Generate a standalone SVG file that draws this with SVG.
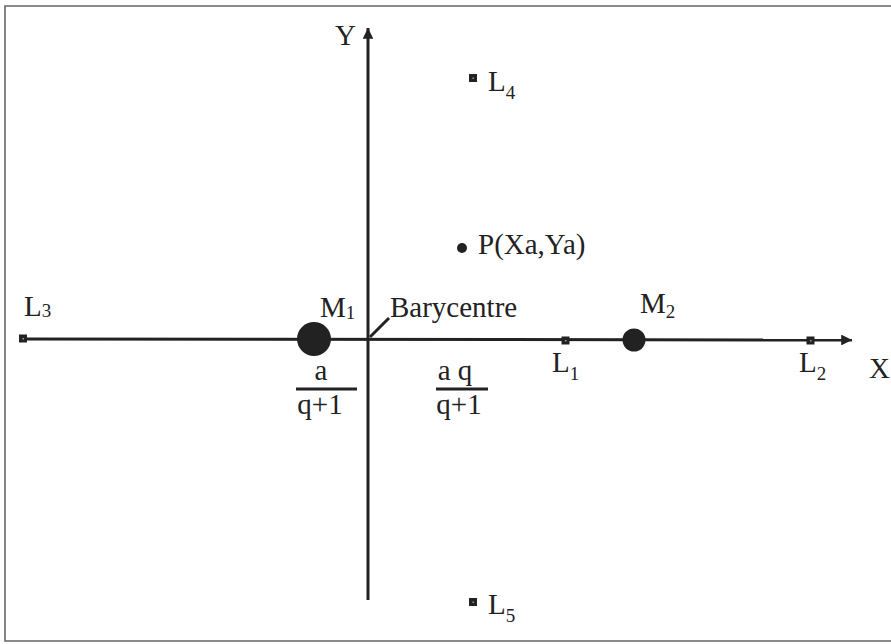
<svg xmlns="http://www.w3.org/2000/svg" width="891" height="644" viewBox="0 0 891 644">
<style>
text{font-family:"Liberation Serif","Times New Roman",serif;fill:#222}
.lb{font-size:29px}
.sb{font-size:19px}
.ax{stroke:#222;stroke-width:3;fill:none}
.pt{fill:#222}
.hole{fill:#999}
</style>
<defs>
<marker id="arr" viewBox="0 0 10 10" refX="10" refY="5" markerWidth="5" markerHeight="3.6" orient="auto" markerUnits="strokeWidth">
<path d="M0,0 L10,5 L0,10 z" fill="#222"/>
</marker>
</defs>
<rect width="891" height="644" fill="#fff"/>
<path d="M891,6 L5,6 L5,641 L891,641" fill="none" stroke="#666" stroke-width="1.6"/>

<g id="connectors">
<line class="ax" x1="23" y1="339" x2="852" y2="340" marker-end="url(#arr)"/>
<line class="ax" x1="368" y1="600" x2="368" y2="28" marker-end="url(#arr)"/>
<line class="ax" x1="370" y1="337" x2="389" y2="318" stroke-width="2.6"/>
</g>

<g id="axis-labels">
<text class="lb" x="335" y="45">Y</text>
<text class="lb" x="869" y="378">X</text>
</g>

<g id="M1">
<circle class="pt" cx="314" cy="339" r="17"/>
<text class="lb" x="320" y="317">M<tspan class="sb" dy="2">1</tspan></text>
</g>

<g id="M2">
<circle class="pt" cx="634" cy="340" r="11.5"/>
<text class="lb" x="640" y="313">M<tspan class="sb" dy="5">2</tspan></text>
</g>

<g id="barycentre">
<text class="lb" x="390" y="317">Barycentre</text>
</g>

<g id="L1">
<rect class="pt" x="561.5" y="336.5" width="8" height="8"/>
<rect class="hole" x="565" y="340" width="1.5" height="1.5"/>
<text class="lb" x="552" y="372">L<tspan class="sb" dy="8">1</tspan></text>
</g>

<g id="L2">
<rect class="pt" x="806.5" y="336.5" width="8" height="8"/>
<rect class="hole" x="810" y="340" width="1.5" height="1.5"/>
<text class="lb" x="799" y="372">L<tspan class="sb" dy="8">2</tspan></text>
</g>

<g id="L3">
<rect class="pt" x="19" y="334.5" width="8" height="8"/>
<rect class="hole" x="22.5" y="338" width="1.5" height="1.5"/>
<text class="lb" x="24" y="316">L<tspan class="sb" dy="1">3</tspan></text>
</g>

<g id="L4">
<rect class="pt" x="469" y="74" width="8" height="8"/>
<rect class="hole" x="472.5" y="77.5" width="1.5" height="1.5"/>
<text class="lb" x="488" y="91">L<tspan class="sb" dy="8">4</tspan></text>
</g>

<g id="L5">
<rect class="pt" x="469" y="598" width="8" height="8"/>
<rect class="hole" x="472.5" y="601.5" width="1.5" height="1.5"/>
<text class="lb" x="488" y="614">L<tspan class="sb" dy="8">5</tspan></text>
</g>

<g id="P">
<circle class="pt" cx="462" cy="248" r="5"/>
<text class="lb" x="478" y="254">P(Xa,Ya)</text>
</g>

<g id="frac1">
<text class="lb" x="321" y="380" text-anchor="middle">a</text>
<line x1="296" y1="389" x2="357" y2="389" stroke="#222" stroke-width="3"/>
<text class="lb" x="320" y="414" text-anchor="middle">q+1</text>
</g>

<g id="frac2">
<text class="lb" x="455" y="380" text-anchor="middle">a q</text>
<line x1="436" y1="389" x2="488" y2="389" stroke="#222" stroke-width="3"/>
<text class="lb" x="459" y="414" text-anchor="middle">q+1</text>
</g>
</svg>
